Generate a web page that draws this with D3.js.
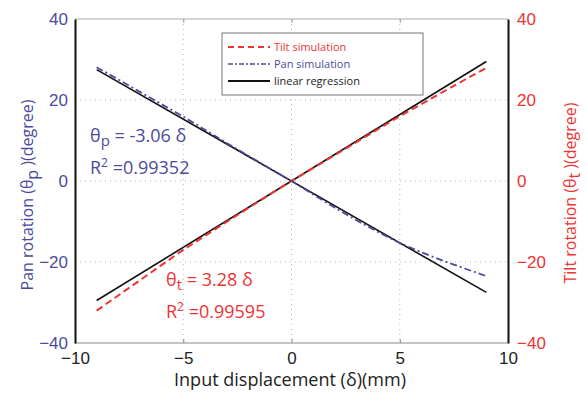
<!DOCTYPE html>
<html><head><meta charset="utf-8">
<script src="https://cdn.jsdelivr.net/npm/d3@7"></script>
<style>
body{margin:0;background:#fff;}
svg{display:block;font-family:"Open Sans","Noto Sans",sans-serif;}
</style></head>
<body><svg id="c" width="587" height="394"></svg>
<script>
const xTicks = [-10, -5, 0, 5, 10];
const yTicks = [-40, -20, 0, 20, 40];
const simX    = [-9, -7, -5, -3, -1, 0, 1, 2, 3, 4, 5, 6, 7, 8, 9];
const tiltSim = [-32, -24.5, -17, -10.1, -3.3, 0, 3.2, 6.4, 9.6, 12.8, 16, 19, 22, 25, 27.9];
const panSim  = [28.1, 22, 15.9, 9.4, 3.1, 0, -3.3, -6.6, -9.7, -12.6, -15.3, -17.6, -19.7, -21.6, -23.5];
const regX    = [-9, 9];
const tiltReg = [-29.5, 29.5];
const panReg  = [27.5, -27.5];
const legendLabels = ["Tilt simulation", "Pan simulation", "linear regression"];

const BLUE = "#4b4b9e", RED = "#ee3333";
const svg = d3.select("#c");
const L = 75, R = 508, T = 19, B = 343;
const x = d3.scaleLinear().domain([-10, 10]).range([L, R]);
const y = d3.scaleLinear().domain([-40, 40]).range([B, T]);
const fmt = d => d < 0 ? "\u2212" + Math.abs(d) : d;

// grid
const g = svg.append("g");
g.selectAll(".gx").data(xTicks.slice(1, -1)).join("line")
  .attr("x1", d => x(d)).attr("x2", d => x(d)).attr("y1", T).attr("y2", B)
  .attr("stroke", "#b8b8b8").attr("stroke-width", 1).attr("stroke-dasharray", "1,4");
g.selectAll(".gy").data(yTicks.slice(1, -1)).join("line")
  .attr("x1", L).attr("x2", R).attr("y1", d => y(d)).attr("y2", d => y(d))
  .attr("stroke", "#b8b8b8").attr("stroke-width", 1).attr("stroke-dasharray", "1,4");

// frame
svg.append("line").attr("x1", L).attr("x2", R).attr("y1", T).attr("y2", T).attr("stroke", "#a8b0a8").attr("stroke-width", 1.2);
svg.append("line").attr("x1", L).attr("x2", R).attr("y1", B).attr("y2", B).attr("stroke", "#8a8a8a").attr("stroke-width", 1.2);

// x axis
const xa = svg.append("g").attr("transform", `translate(0,${B})`)
  .call(d3.axisBottom(x).tickValues(xTicks).tickSizeInner(-4).tickSizeOuter(0).tickPadding(9).tickFormat(fmt));
xa.select(".domain").remove();
xa.selectAll("line").attr("stroke", "#888");
xa.selectAll("text").attr("font-size", 17).attr("fill", "#222");
const xt = svg.append("g").attr("transform", `translate(0,${T})`)
  .call(d3.axisTop(x).tickValues(xTicks.slice(1, -1)).tickSizeInner(-4).tickSizeOuter(0).tickFormat(""));
xt.select(".domain").remove();
xt.selectAll("line").attr("stroke", "#999");

// left axis
const yl = svg.append("g").attr("transform", `translate(${L},0)`)
  .call(d3.axisLeft(y).tickValues(yTicks).tickSizeInner(0).tickSizeOuter(0).tickPadding(7).tickFormat(fmt));
yl.select(".domain").attr("stroke", "#111").attr("stroke-width", 2);
yl.selectAll("text").attr("font-size", 17).attr("fill", BLUE);

// right axis
const yr = svg.append("g").attr("transform", `translate(${R},0)`)
  .call(d3.axisRight(y).tickValues(yTicks).tickSizeInner(0).tickSizeOuter(0).tickPadding(9).tickFormat(fmt));
yr.select(".domain").attr("stroke", "#111").attr("stroke-width", 2);
yr.selectAll("text").attr("font-size", 17).attr("fill", RED);

// lines
const line = d3.line().x(d => x(d[0])).y(d => y(d[1]));
svg.append("path").datum(regX.map((v, i) => [v, tiltReg[i]])).attr("d", line)
  .attr("fill", "none").attr("stroke", "#111").attr("stroke-width", 1.6);
svg.append("path").datum(regX.map((v, i) => [v, panReg[i]])).attr("d", line)
  .attr("fill", "none").attr("stroke", "#111").attr("stroke-width", 1.6);
svg.append("path").datum(simX.map((v, i) => [v, tiltSim[i]])).attr("d", line)
  .attr("fill", "none").attr("stroke", RED).attr("stroke-width", 2).attr("stroke-dasharray", "7,4");
svg.append("path").datum(simX.map((v, i) => [v, panSim[i]])).attr("d", line)
  .attr("fill", "none").attr("stroke", BLUE).attr("stroke-width", 1.8).attr("stroke-dasharray", "7,3,2,3");

// legend
const lg = svg.append("g");
lg.append("rect").attr("x", 222).attr("y", 33).attr("width", 201).attr("height", 62)
  .attr("fill", "#fff").attr("stroke", "#777").attr("stroke-width", 1);
const lstyles = [
  {c: RED, w: 2, d: "6,4", tc: RED},
  {c: BLUE, w: 1.6, d: "5,2,2,2", tc: BLUE},
  {c: "#111", w: 1.8, d: null, tc: "#222"}
];
const ly = [47, 64, 81];
legendLabels.forEach((t, i) => {
  lg.append("line").attr("x1", 228).attr("x2", 270).attr("y1", ly[i]).attr("y2", ly[i])
    .attr("stroke", lstyles[i].c).attr("stroke-width", lstyles[i].w).attr("stroke-dasharray", lstyles[i].d);
  lg.append("text").attr("x", 274).attr("y", ly[i] + 4).attr("font-size", 11).attr("fill", lstyles[i].tc).text(t);
});

// annotations
function annot(xp, yp, sym, sub, rest, r2, color) {
  const t1 = svg.append("text").attr("x", xp).attr("y", yp).attr("font-size", 18).attr("fill", color);
  t1.append("tspan").text(sym);
  t1.append("tspan").attr("dy", 4).attr("font-size", 15).text(sub);
  t1.append("tspan").attr("dy", -4).text(rest);
  const t2 = svg.append("text").attr("x", xp).attr("y", yp + 32).attr("font-size", 18).attr("fill", color);
  t2.append("tspan").text("R");
  t2.append("tspan").attr("dy", -7).attr("font-size", 12).text("2");
  t2.append("tspan").attr("dy", 7).text(" =" + r2);
}
annot(90, 142, "\u03b8", "p", " = -3.06 \u03b4", "0.99352", BLUE);
annot(166, 286, "\u03b8", "t", "  = 3.28 \u03b4", "0.99595", RED);

// axis labels
svg.append("text").attr("x", 290).attr("y", 386).attr("text-anchor", "middle")
  .attr("font-size", 18).attr("fill", "#222").text("Input displacement (\u03b4)(mm)");
const ll = svg.append("text").attr("transform", "translate(33,195) rotate(-90)").attr("text-anchor", "middle")
  .attr("font-size", 16).attr("fill", BLUE);
ll.append("tspan").text("Pan rotation (\u03b8");
ll.append("tspan").attr("dy", 5).text("p");
ll.append("tspan").attr("dy", -5).text(" )(degree)");
const rl = svg.append("text").attr("transform", "translate(576,193) rotate(-90)").attr("text-anchor", "middle")
  .attr("font-size", 16).attr("fill", RED);
rl.append("tspan").text("Tilt rotation (\u03b8");
rl.append("tspan").attr("dy", 4).text("t");
rl.append("tspan").attr("dy", -4).text(" )(degree)");
</script></body></html>
